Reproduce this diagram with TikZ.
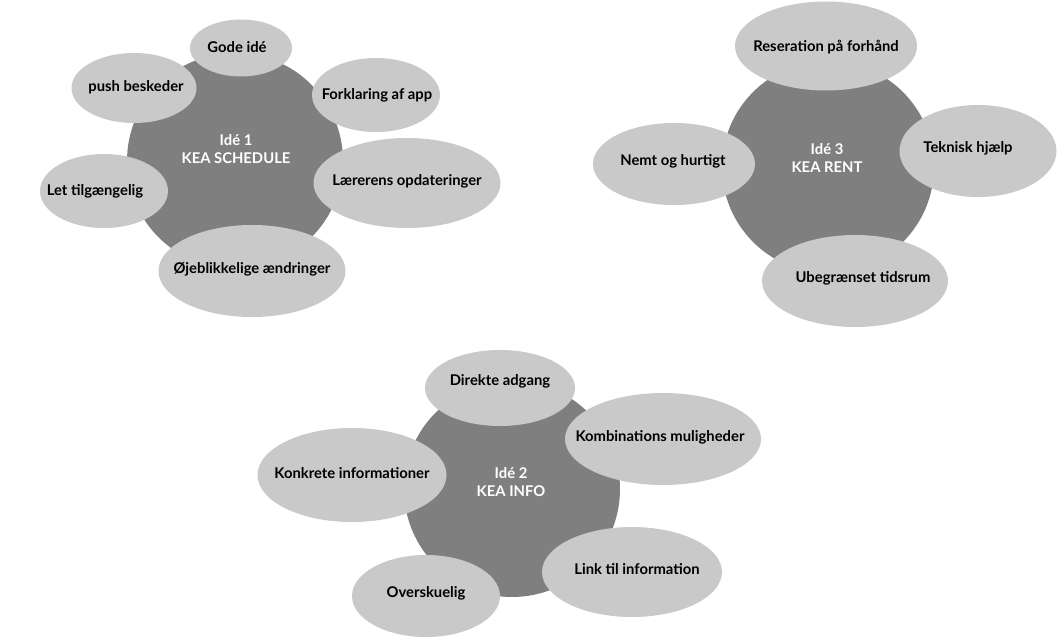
\documentclass[tikz,border=0pt]{standalone}
\usepackage{fontspec}
\setmainfont{Lato}
\usetikzlibrary{shapes.geometric}
\definecolor{hub}{HTML}{7F7F7F}
\definecolor{leaf}{HTML}{C9C9C9}
\begin{document}
\begin{tikzpicture}[x=1pt,y=-1pt,
  hubc/.style={circle,fill=hub,draw=none,inner sep=0pt},
  bub/.style={ellipse,fill=leaf,draw=none,inner sep=0pt},
  lbl/.style={font=\fontsize{14.8}{18}\selectfont\bfseries,text=black,inner sep=0pt,align=center},
  hlbl/.style={font=\fontsize{14.8}{18.5}\selectfont\bfseries,text=white,inner sep=0pt,align=center}]
\useasboundingbox[fill=white] (0,0) rectangle (1063,637);
% ---------- Idea 1
\node[hubc,minimum size=216] (h1) at (235,161) {};
\node[bub,minimum width=102,minimum height=57] (e11) at (241,48) {};
\node[bub,minimum width=125,minimum height=70] (e12) at (134,88) {};
\node[bub,minimum width=128,minimum height=74] (e13) at (376,95) {};
\node[bub,minimum width=187,minimum height=90] (e14) at (407,183) {};
\node[bub,minimum width=128,minimum height=74] (e15) at (104,191) {};
\node[bub,minimum width=187,minimum height=92] (e16) at (252,271) {};
\node[hlbl] (t1) at (236,149) {Idé 1\\KEA SCHEDULE};
\node[lbl] (l11) at (237,47) {Gode idé};
\node[lbl] (l12) at (136,87) {push beskeder};
\node[lbl] (l13) at (377,95) {Forklaring af app};
\node[lbl] (l14) at (407,181) {Lærerens opdateringer};
\node[lbl] (l15) at (95,191) {Let tilgængelig};
\node[lbl] (l16) at (252,269) {Øjeblikkelige ændringer};
% ---------- Idea 3
\node[hubc,minimum size=212] (h3) at (828,167) {};
\node[bub,minimum width=182,minimum height=89] (e31) at (826,46) {};
\node[bub,minimum width=162,minimum height=82] (e32) at (674,164) {};
\node[bub,minimum width=157,minimum height=92] (e33) at (978,151) {};
\node[bub,minimum width=186,minimum height=92] (e34) at (855,281) {};
\node[hlbl] (t3) at (827,158) {Idé 3\\KEA RENT};
\node[lbl] (l31) at (826,47) {Reseration på forhånd};
\node[lbl] (l32) at (673,161) {Nemt og hurtigt};
\node[lbl] (l33) at (968,148) {Teknisk hjælp};
\node[lbl] (l34) at (863,278) {Ubegrænset tidsrum};
% ---------- Idea 2
\node[hubc,minimum size=216] (h2) at (512,489) {};
\node[bub,minimum width=150,minimum height=76] (e21) at (500,388) {};
\node[bub,minimum width=196,minimum height=92] (e22) at (663,439) {};
\node[bub,minimum width=189,minimum height=94] (e23) at (352,475) {};
\node[bub,minimum width=180,minimum height=90] (e24) at (632,572) {};
\node[bub,minimum width=148,minimum height=82] (e25) at (426,596) {};
\node[hlbl] (t2) at (511,482) {Idé 2\\KEA INFO};
\node[lbl] (l21) at (500,381) {Direkte adgang};
\node[lbl] (l22) at (660,437) {Kombinations muligheder};
\node[lbl] (l23) at (352,473) {Konkrete informationer};
\node[lbl] (l24) at (637,569) {Link til information};
\node[lbl] (l25) at (426,593) {Overskuelig};
\end{tikzpicture}
\end{document}
